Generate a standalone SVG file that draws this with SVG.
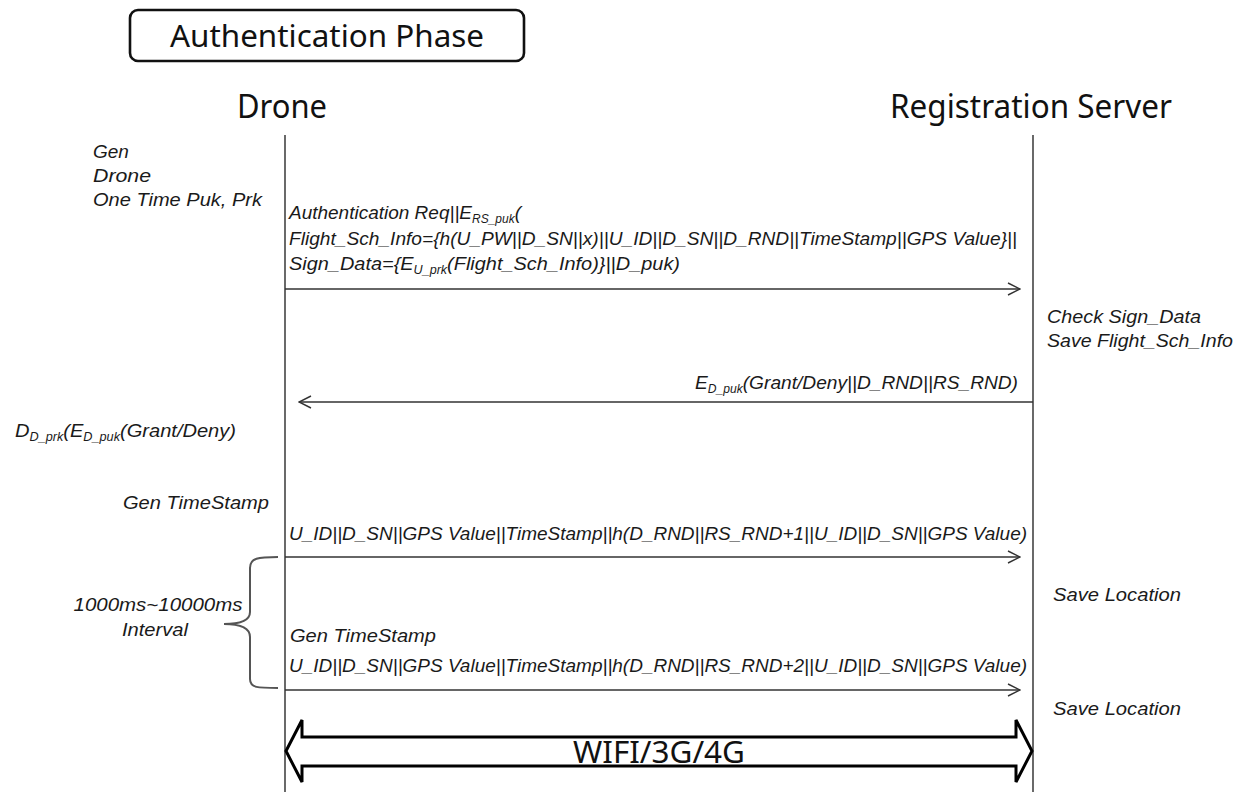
<svg xmlns="http://www.w3.org/2000/svg" width="1243" height="792" viewBox="0 0 1243 792">
<style>
.t{font-family:"Noto Sans","Open Sans","Liberation Sans",sans-serif;fill:#111}
.i{font-family:"Liberation Sans","Noto Sans",sans-serif;font-style:italic;font-size:19px;fill:#1a1a1a}
.s{font-size:12px}
.life{stroke:#444;stroke-width:1.6;fill:none}
.msg{stroke:#333;stroke-width:1.3;fill:none}
</style>
<defs>
<marker id="ah" viewBox="0 0 14 14" refX="13" refY="7" markerWidth="14" markerHeight="14" markerUnits="userSpaceOnUse" orient="auto">
<path d="M1,1 L13,7 L1,13" fill="none" stroke="#333" stroke-width="1.4"/>
</marker>
</defs>
<rect width="1243" height="792" fill="#fff"/>
<g id="title">
<rect x="130" y="10" width="394" height="51" rx="8" fill="#fff" stroke="#111" stroke-width="2.6"/>
<text class="t" x="327" y="47" font-size="30" text-anchor="middle" textLength="314" lengthAdjust="spacingAndGlyphs">Authentication Phase</text>
</g>
<g id="drone">
<text class="t" x="282" y="118" font-size="32" text-anchor="middle" textLength="90" lengthAdjust="spacingAndGlyphs">Drone</text>
</g>
<g id="server">
<text class="t" x="1031" y="118" font-size="32" text-anchor="middle" textLength="282" lengthAdjust="spacingAndGlyphs">Registration Server</text>
</g>
<g id="lifelines">
<line class="life" x1="285" y1="135" x2="285" y2="792"/>
<line class="life" x1="1033" y1="135" x2="1033" y2="792"/>
</g>
<g id="notes">
<text class="i" x="93" y="158">Gen</text>
<text class="i" x="93" y="182" textLength="58" lengthAdjust="spacingAndGlyphs">Drone</text>
<text class="i" x="93" y="206" textLength="169" lengthAdjust="spacingAndGlyphs">One Time Puk, Prk</text>
<text class="i" x="1047" y="323" textLength="154" lengthAdjust="spacingAndGlyphs">Check Sign_Data</text>
<text class="i" x="1047" y="347" textLength="186" lengthAdjust="spacingAndGlyphs">Save Flight_Sch_Info</text>
<text class="i" x="15" y="437" textLength="221" lengthAdjust="spacingAndGlyphs">D<tspan class="s" dy="4">D_prk</tspan><tspan dy="-4">(E</tspan><tspan class="s" dy="4">D_puk</tspan><tspan dy="-4">(Grant/Deny)</tspan></text>
<text class="i" x="269" y="509" text-anchor="end" textLength="146" lengthAdjust="spacingAndGlyphs">Gen TimeStamp</text>
<text class="i" x="158" y="611" text-anchor="middle" font-size="18" textLength="169" lengthAdjust="spacingAndGlyphs">1000ms~10000ms</text>
<text class="i" x="155" y="636" text-anchor="middle" font-size="18" textLength="66" lengthAdjust="spacingAndGlyphs">Interval</text>
<text class="i" x="1053" y="601" textLength="128" lengthAdjust="spacingAndGlyphs">Save Location</text>
<text class="i" x="290" y="642" textLength="146" lengthAdjust="spacingAndGlyphs">Gen TimeStamp</text>
<text class="i" x="1053" y="715" textLength="128" lengthAdjust="spacingAndGlyphs">Save Location</text>
</g>
<g id="brace">
<path d="M278,557 C258,557 250,558 250,568 L250,612 C250,621 240,624 224,624 C240,624 250,628 250,637 L250,679 C250,688 258,688 278,688" fill="none" stroke="#555" stroke-width="2"/>
</g>
<g id="connectors">
<line class="msg" x1="285" y1="289" x2="1020" y2="289" marker-end="url(#ah)"/>
<line class="msg" x1="1033" y1="402" x2="299" y2="402" marker-end="url(#ah)"/>
<line class="msg" x1="285" y1="557" x2="1020" y2="557" marker-end="url(#ah)"/>
<line class="msg" x1="285" y1="690" x2="1020" y2="690" marker-end="url(#ah)"/>
</g>
<g id="labels">
<text class="i" x="289" y="219" textLength="232" lengthAdjust="spacingAndGlyphs">Authentication Req||E<tspan class="s" dy="4">RS_puk</tspan><tspan dy="-4">(</tspan></text>
<text class="i" x="289" y="245" textLength="728" lengthAdjust="spacingAndGlyphs">Flight_Sch_Info={h(U_PW||D_SN||x)||U_ID||D_SN||D_RND||TimeStamp||GPS Value}||</text>
<text class="i" x="289" y="270" textLength="391" lengthAdjust="spacingAndGlyphs">Sign_Data={E<tspan class="s" dy="4">U_prk</tspan><tspan dy="-4">(Flight_Sch_Info)}||D_puk)</tspan></text>
<text class="i" x="1018" y="389" text-anchor="end" textLength="323" lengthAdjust="spacingAndGlyphs">E<tspan class="s" dy="4">D_puk</tspan><tspan dy="-4">(Grant/Deny||D_RND||RS_RND)</tspan></text>
<text class="i" x="289" y="540" textLength="738" lengthAdjust="spacingAndGlyphs">U_ID||D_SN||GPS Value||TimeStamp||h(D_RND||RS_RND+1||U_ID||D_SN||GPS Value)</text>
<text class="i" x="289" y="672" textLength="738" lengthAdjust="spacingAndGlyphs">U_ID||D_SN||GPS Value||TimeStamp||h(D_RND||RS_RND+2||U_ID||D_SN||GPS Value)</text>
</g>
<g id="network">
<path d="M286,751 L302,720 L302,737 L1016,737 L1016,720 L1032,751 L1016,782 L1016,766 L302,766 L302,782 Z" fill="#fff" stroke="#000" stroke-width="3" stroke-linejoin="miter"/>
<text class="t" x="659" y="763" font-size="30" text-anchor="middle" textLength="172" lengthAdjust="spacingAndGlyphs">WIFI/3G/4G</text>
</g>
</svg>
